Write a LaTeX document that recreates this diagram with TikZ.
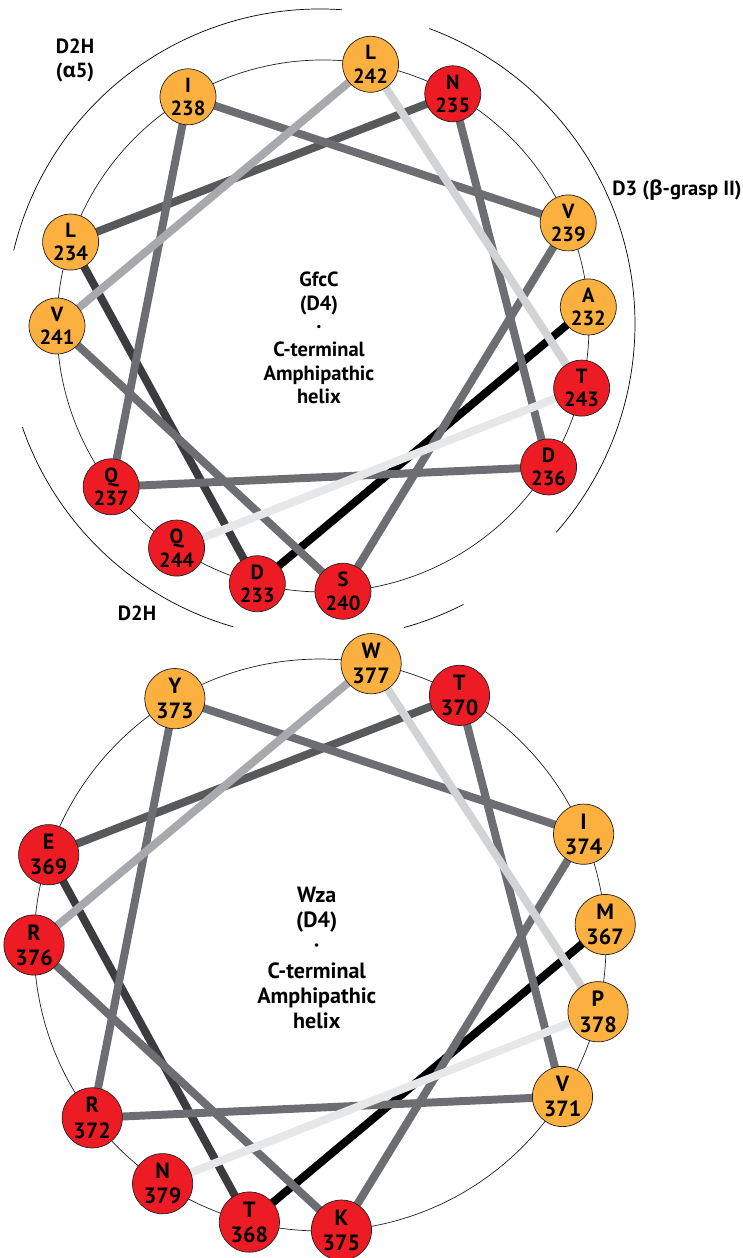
\documentclass[tikz,border=0pt]{standalone}
\usepackage{fontspec}
\setmainfont{PT Sans}
\newfontfamily\grk{Open Sans}
\usetikzlibrary{backgrounds}
\definecolor{resorange}{HTML}{FBB040}
\definecolor{resred}{HTML}{ED1C24}
\definecolor{rim}{HTML}{231F20}
\definecolor{tone1}{HTML}{3C3C3E}
\definecolor{tone2}{HTML}{58595B}
\definecolor{tone3}{HTML}{6D6E71}
\definecolor{tone4}{HTML}{A7A9AC}
\definecolor{tone5}{HTML}{D1D3D4}
\definecolor{tone6}{HTML}{E6E7E8}
\begin{document}
\begin{tikzpicture}
  [x=0.03cm,y=0.03cm,
   every node/.style={font=\bfseries\fontsize{17.5}{20}\selectfont,align=center,inner sep=0pt},
   res/.style={circle,draw=rim,line width=0.6pt,minimum size=1.68cm},
   hpho/.style={res,fill=resorange},
   hphi/.style={res,fill=resred},
   bond/.style={line width=6.8pt},
   wheel/.style={line width=0.6pt,draw=rim},
   dline/.style={line width=0.6pt,draw=black}]
  \useasboundingbox (0,0) rectangle (742,1258);

  % GfcC wheel
  \begin{scope}[shift={(323,932)}]
    \node[hpho] (a232) at (4.1:266)   {A\\232};
    \node[hphi] (d233) at (255.7:266) {D\\233};
    \node[hpho] (l234) at (161.6:266) {L\\234};
    \node[hphi] (n235) at (60.8:266)  {N\\235};
    \node[hphi] (d236) at (328:266)   {D\\236};
    \node[hphi] (q237) at (217.2:266) {Q\\237};
    \node[hpho] (i238) at (120.5:266) {I\\238};
    \node[hpho] (v239) at (22.8:266)  {V\\239};
    \node[hphi] (s240) at (274.3:266) {S\\240};
    \node[hpho] (v241) at (180:266)   {V\\241};
    \node[hpho] (l242) at (79.7:266)  {L\\242};
    \node[hphi] (t243) at (346.5:266) {T\\243};
    \node[hphi] (q244) at (236.6:266) {Q\\244};

    \node (gfcc) at (-4,-12) {GfcC\\(D4)\\·\\C-terminal\\Amphipathic\\helix};

    \begin{scope}[on background layer]
      \draw[wheel] (0,0) circle (266);
      \foreach \from/\to/\tone in {a232/d233/black, d233/l234/tone1, l234/n235/tone2,
          n235/d236/tone3, d236/q237/tone3, q237/i238/tone3, i238/v239/tone3,
          v239/s240/tone3, s240/v241/tone3, v241/l242/tone4, l242/t243/tone5,
          t243/q244/tone6}
        \draw[bond,draw=\tone] (\from.center) -- (\to.center);
    \end{scope}

    % domain arcs
    \draw[dline] (-3,2) ++(86:315) arc[start angle=86,end angle=166.5,radius=315];
    \draw[dline] (-3,2) ++(69.7:315) arc[start angle=69.7,end angle=-41.4,radius=315];
    \draw[dline] (-3,2) ++(199.1:315) arc[start angle=199.1,end angle=254,radius=315];
    \draw[dline] (-3,2) ++(285.5:315) arc[start angle=285.5,end angle=297.1,radius=315];
  \end{scope}

  \node (d2htop) at (75,1197.5) {D2H\\({\grk α}5)};
  \node (d3) at (677,1068) {D3 ({\grk β}-grasp II)};
  \node (d2hbot) at (137,645) {D2H};

  % Wza wheel
  \begin{scope}[shift={(320,313)},scale=1.075,transform shape]
    \node[hpho] (m367) at (4.1:266)   {M\\367};
    \node[hphi] (t368) at (255.7:266) {T\\368};
    \node[hphi] (e369) at (161.6:266) {E\\369};
    \node[hphi] (t370) at (60.8:266)  {T\\370};
    \node[hpho] (v371) at (328:266)   {V\\371};
    \node[hphi] (r372) at (217.2:266) {R\\372};
    \node[hpho] (y373) at (120.5:266) {Y\\373};
    \node[hpho] (i374) at (22.8:266)  {I\\374};
    \node[hphi] (k375) at (274.3:266) {K\\375};
    \node[hphi] (r376) at (180:266)   {R\\376};
    \node[hpho] (w377) at (79.7:266)  {W\\377};
    \node[hpho] (p378) at (346.5:266) {P\\378};
    \node[hphi] (n379) at (236.6:266) {N\\379};

    \node (wza) at (-3,-12) {Wza\\(D4)\\·\\C-terminal\\Amphipathic\\helix};

    \begin{scope}[on background layer]
      \draw[wheel] (0,0) circle (266);
      \foreach \from/\to/\tone in {m367/t368/black, t368/e369/tone1, e369/t370/tone2,
          t370/v371/tone3, v371/r372/tone3, r372/y373/tone3, y373/i374/tone3,
          i374/k375/tone3, k375/r376/tone3, r376/w377/tone4, w377/p378/tone5,
          p378/n379/tone6}
        \draw[bond,draw=\tone] (\from.center) -- (\to.center);
    \end{scope}
  \end{scope}
\end{tikzpicture}
\end{document}
